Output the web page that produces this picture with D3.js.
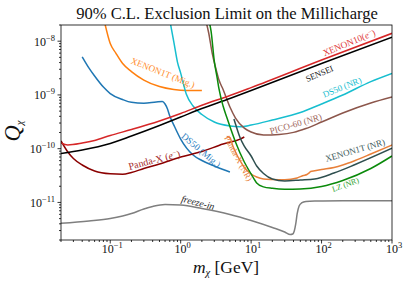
<!DOCTYPE html>
<html><head><meta charset="utf-8">
<script src="https://cdn.jsdelivr.net/npm/d3@7"></script>
<style>
body{margin:0;background:#fff}
svg{display:block}
svg text{font-family:"Liberation Serif","DejaVu Serif",serif}
</style>
</head><body>
<svg id="chart" width="407" height="287" font-family="Liberation Serif, DejaVu Serif, serif"></svg>
<script>
// ---------------- data (mass in GeV, Q_chi) ----------------
const xenon10M = [0.02,0.025,0.04,0.06,0.1,0.2,0.5,1,2,5,10,100,1000];
const xenon10Q = [1.28e-10,1.17e-10,1.27e-10,1.42e-10,1.76e-10,2.27e-10,3.27e-10,4.51e-10,6.41e-10,9.75e-10,1.37e-9,4.46e-9,1.40e-8];

const senseiM = [0.02,0.04,0.1,0.2,0.5,1,2,5,10,100,1000];
const senseiQ = [8.13e-11,9.45e-11,1.25e-10,1.72e-10,2.70e-10,3.88e-10,5.58e-10,8.57e-10,1.21e-9,3.84e-9,1.19e-8];

const pandaEM = [0.02,0.025,0.03,0.04,0.06,0.1,0.15,0.2,0.3,0.5,1,2,4,7,8];
const pandaEQ = [1.39e-10,8.67e-11,6.56e-11,4.97e-11,3.85e-11,3.41e-11,3.34e-11,3.61e-11,4.28e-11,5.19e-11,7.00e-11,8.86e-11,1.22e-10,1.51e-10,1.65e-10];

const ds50MigM = [0.04,0.05,0.06,0.08,0.1,0.15,0.2,0.3,0.45,0.55,0.6,0.65,0.7,0.8,1,1.5,2,3,4,5];
const ds50MigQ = [5.13e-9,3.16e-9,2.25e-9,1.40e-9,1.06e-9,8.21e-10,7.28e-10,6.98e-10,7.38e-10,7.54e-10,6.78e-10,5.47e-10,4.05e-10,2.75e-10,1.51e-10,7.62e-11,6.03e-11,4.76e-11,4.10e-11,3.68e-11];

const ds50NRM = [0.7,0.8,0.9,1,1.2,1.5,2,3,5,7,10,20,50,100,200,500,1000];
const ds50NRQ = [2.47e-8,9.64e-9,4.09e-9,2.55e-9,1.04e-9,6.22e-10,4.32e-10,3.13e-10,2.64e-10,2.55e-10,2.75e-10,3.41e-10,4.71e-10,6.78e-10,9.95e-10,1.77e-9,2.52e-9];

const picoM = [2.3,2.5,2.8,3.2,3.5,4,5,6,8,10,15,25,40,60,100,200,500,1000];
const picoQ = [2.27e-8,1.42e-8,6.01e-9,2.90e-9,1.89e-9,1.26e-9,5.96e-10,3.72e-10,2.42e-10,2.04e-10,1.79e-10,1.84e-10,2.01e-10,2.37e-10,3.13e-10,4.61e-10,7.06e-10,9.14e-10];

const lzM = [2.5,2.7,3,3.3,3.5,4,4.5,5,6,8,10,12,15,20,30,50,100,200,500,1000];
const lzQ = [2.47e-8,1.54e-8,4.27e-9,2.06e-9,1.29e-9,6.22e-10,3.88e-10,2.58e-10,1.33e-10,5.65e-11,3.38e-11,2.30e-11,1.95e-11,1.83e-11,1.76e-11,1.78e-11,1.98e-11,2.56e-11,4.28e-11,7.31e-11];

const xe1tNRM = [5.7,6,7,8,10,12,15,20,30,50,80,150,300,1000];
const xe1tNRQ = [3.56e-10,2.88e-10,1.58e-10,1.12e-10,7.31e-11,4.76e-11,3.45e-11,2.73e-11,2.51e-11,2.61e-11,2.73e-11,3.52e-11,5.08e-11,1.02e-10];

const pandaNRM = [4.5,5,5.5,6,7,8,10,12,15,20,30,45,55,62,66,70,80,100,150,200,300,500,1000];
const pandaNRQ = [1.68e-10,1.61e-10,1.12e-10,8.67e-11,5.90e-11,4.47e-11,3.38e-11,2.97e-11,2.73e-11,2.67e-11,2.64e-11,2.85e-11,3.17e-11,3.31e-11,3.52e-11,3.76e-11,3.89e-11,4.10e-11,4.47e-11,4.97e-11,6.03e-11,7.96e-11,1.17e-10];

const xe1tMigM = [0.083,0.1,0.12,0.15,0.2,0.3,0.5,0.8,1.2,2];
const xe1tMigQ = [2.27e-8,9.04e-9,6.01e-9,3.84e-9,2.72e-9,1.89e-9,1.43e-9,1.26e-9,1.21e-9,1.21e-9];

const freezeM = [0.02,0.05,0.1,0.15,0.2,0.3,0.4,0.6,1,2,5,10,20,30,36,39,41,43,45,48,52,60,80,200,1000];
const freezeQ = [4.09e-12,4.52e-12,5.02e-12,5.60e-12,6.22e-12,7.55e-12,8.41e-12,9.16e-12,8.95e-12,7.70e-12,5.97e-12,4.61e-12,3.42e-12,2.82e-12,2.53e-12,2.59e-12,2.94e-12,3.97e-12,6.10e-12,8.59e-12,9.77e-12,1.04e-11,1.06e-11,1.07e-11,1.08e-11];

// tick labels (powers of ten)
const xTickExp = [-1,0,1,2,3];
const yTickExp = [-11,-10,-9,-8];

// curve labels: text, anchor mass, anchor Q
const labelText = ["XENON10(e⁻)","SENSEI","DS50 (NR)","PICO-60 (NR)","XENON1T (NR)","LZ (NR)","Panda-X (NR)","DS50 (Mig.)","Panda-X (e⁻)","XENON1T (Mig.)","freeze-in"];
const labelM = [245,93,195,43,299,218,6.6,1.95,0.42,0.56,1.76];
const labelQ = [9.4e-9,2.5e-9,1.4e-9,2.9e-10,9.4e-11,2.15e-11,6.6e-11,9.4e-11,6.2e-11,2.6e-9,1.0e-11];

// ---------------- layout / styles ----------------
const L=61, R=392, T=25, B=240;
const svg = d3.select("#chart");
const x = d3.scaleLog().domain([0.02,1000]).range([L,R]);
const y = d3.scaleLog().domain([2e-12,2e-8]).range([B,T]);

const series = [
  {m:freezeM, q:freezeQ, c:"#7f7f7f"},
  {m:xe1tMigM, q:xe1tMigQ, c:"#ff7f0e"},
  {m:ds50MigM, q:ds50MigQ, c:"#1f77b4"},
  {m:ds50NRM, q:ds50NRQ, c:"#17becf"},
  {m:picoM, q:picoQ, c:"#8c564b"},
  {m:pandaEM, q:pandaEQ, c:"#8b0000"},
  {m:senseiM, q:senseiQ, c:"#000000"},
  {m:xenon10M, q:xenon10Q, c:"#d62728"},
  {m:pandaNRM, q:pandaNRQ, c:"#e8803a"},
  {m:xe1tNRM, q:xe1tNRQ, c:"#2f4f4f"},
  {m:lzM, q:lzQ, c:"#0a8a0a"}
];
const labelColor = ["#e0393a","#111","#17becf","#a0685c","#3d5a5a","#2ca02c","#e8803a","#2f7fbf","#a52a2a","#ff8c2a","#222"];
const labelAngle = [-22.5,-23,-22,-16,-16,-20,62,40,-14.5,21.5,14];
const labelWidth = [56,29,41,54,62,28,50,48,53,68,34];

svg.append("clipPath").attr("id","clip").append("rect")
  .attr("x",L).attr("y",T).attr("width",R-L).attr("height",B-T);

const line = d3.line().x(d=>x(d[0])).y(d=>y(d[1])).curve(d3.curveMonotoneX);
const g = svg.append("g").attr("clip-path","url(#clip)");
series.forEach(s=>{
  g.append("path").datum(s.m.map((v,i)=>[v,s.q[i]]))
    .attr("d",line).attr("fill","none").attr("stroke",s.c)
    .attr("stroke-width",1.5).attr("stroke-linejoin","round").attr("stroke-linecap","butt");
});

// labels
function fit(t, w){
  const len = t.node().getComputedTextLength();
  const fs = parseFloat(t.attr("font-size"));
  t.attr("font-size", fs*w/len);
}
labelText.forEach((txt,i)=>{
  const t = svg.append("text")
    .attr("transform",`translate(${x(labelM[i])},${y(labelQ[i])}) rotate(${labelAngle[i]})`)
    .attr("text-anchor","middle").attr("dy","0.35em")
    .attr("font-size",8).attr("fill",labelColor[i]);
  if (txt==="freeze-in") t.attr("font-style","italic");
  const k = txt.indexOf("(e⁻)");
  if (k>=0){
    t.append("tspan").text(txt.slice(0,k+1));
    t.append("tspan").attr("font-style","italic").text("e");
    t.append("tspan").attr("font-size","0.7em").attr("dy","-0.45em").text("−");
    t.append("tspan").attr("dy","0.32em").text(")");
  } else t.text(txt);
  fit(t, labelWidth[i]);
});

// frame
svg.append("rect").attr("x",L).attr("y",T).attr("width",R-L).attr("height",B-T)
  .attr("fill","none").attr("stroke","#000").attr("stroke-width",0.8);

// ticks
const minorX=[], minorY=[];
for (let e=-2;e<=2;e++) for (let k=2;k<=9;k++){ const v=k*Math.pow(10,e); if(v>=0.02&&v<=1000) minorX.push(v); }
for (let e=-12;e<=-8;e++) for (let k=2;k<=9;k++){ const v=k*Math.pow(10,e); if(v>=1.99e-12&&v<=2.01e-8) minorY.push(v); }
const tk = svg.append("g").attr("stroke","#000").attr("stroke-width",0.8);
minorX.forEach(v=>tk.append("line").attr("x1",x(v)).attr("x2",x(v)).attr("y1",B).attr("y2",B+2));
xTickExp.forEach(e=>tk.append("line").attr("x1",x(Math.pow(10,e))).attr("x2",x(Math.pow(10,e))).attr("y1",B).attr("y2",B+3.5));
minorY.forEach(v=>tk.append("line").attr("y1",y(v)).attr("y2",y(v)).attr("x1",L).attr("x2",L-2));
yTickExp.forEach(e=>tk.append("line").attr("y1",y(Math.pow(10,e))).attr("y2",y(Math.pow(10,e))).attr("x1",L).attr("x2",L-3.5));

function pow10Label(t, e){
  t.append("tspan").text("10");
  t.append("tspan").attr("font-size",8.5).attr("dy",-5).text(e<0?"−"+(-e):String(e));
}
xTickExp.forEach(e=>{
  const t = svg.append("text").attr("x",x(Math.pow(10,e))+2).attr("y",253)
    .attr("text-anchor","middle").attr("font-size",12).attr("fill","#111");
  pow10Label(t,e);
});
yTickExp.forEach(e=>{
  const t = svg.append("text").attr("x",L-6).attr("y",y(Math.pow(10,e))+4.5)
    .attr("text-anchor","end").attr("font-size",12).attr("fill","#111");
  pow10Label(t,e);
});

// title
const title = svg.append("text").attr("x",227).attr("y",19).attr("text-anchor","middle")
  .attr("font-size",15).attr("fill","#111").text("90% C.L. Exclusion Limit on the Millicharge");
fit(title,302);

// x label
const xl = svg.append("text").attr("x",226).attr("y",273).attr("text-anchor","middle")
  .attr("font-size",15).attr("fill","#111");
xl.append("tspan").attr("font-style","italic").text("m");
xl.append("tspan").attr("font-style","italic").attr("font-size",10.5).attr("dy",3).text("χ");
xl.append("tspan").attr("dy",-3).text(" [GeV]");
fit(xl,67);

// y label
const yl = svg.append("text").attr("transform","translate(20,131) rotate(-90)").attr("text-anchor","middle")
  .attr("font-size",16).attr("fill","#111");
yl.append("tspan").attr("font-style","italic").text("Q");
yl.append("tspan").attr("font-style","italic").attr("font-size",11).attr("dy",3).text("χ");
fit(yl,23);
</script>
</body></html>
